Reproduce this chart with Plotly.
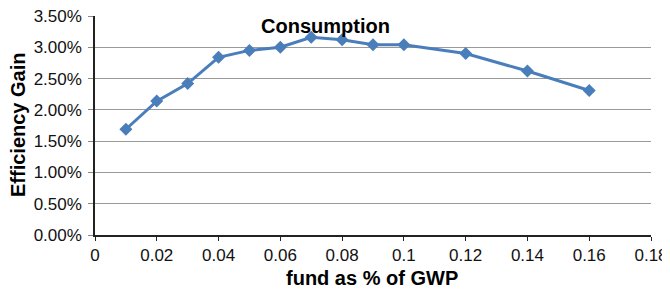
import plotly.graph_objects as go

fund = [0.01, 0.02, 0.03, 0.04, 0.05, 0.06, 0.07, 0.08, 0.09, 0.10, 0.12, 0.14, 0.16]
gain = [0.0169, 0.0214, 0.0242, 0.0284, 0.0295, 0.0300, 0.0316, 0.0312, 0.0304, 0.0304, 0.0290, 0.0262, 0.0231]

x_ticks = [0, 0.02, 0.04, 0.06, 0.08, 0.1, 0.12, 0.14, 0.16, 0.18]
x_labels = ["0", "0.02", "0.04", "0.06", "0.08", "0.1", "0.12", "0.14", "0.16", "0.18"]
y_ticks = [0, 0.005, 0.01, 0.015, 0.02, 0.025, 0.03, 0.035]
y_labels = ["0.00%", "0.50%", "1.00%", "1.50%", "2.00%", "2.50%", "3.00%", "3.50%"]

# page body has an 8px default margin; compensate
OFF = 8
W, H = 662, 285
L, R, T, B = 87, 19, 8, 58
pw, ph = W - L - R, H - T - B


def px(x):
    return (x - OFF - L) / pw


def py(y):
    return 1 - (y - OFF - T) / ph


fig = go.Figure()
fig.add_trace(go.Scatter(
    x=fund, y=gain, mode="lines+markers",
    line=dict(color="#4a7ebb", width=3),
    marker=dict(symbol="diamond", size=10, color="#4a7ebb"),
    showlegend=False,
))

fig.update_layout(
    width=W, height=H,
    margin=dict(l=L, r=R, t=T, b=B, autoexpand=False),
    paper_bgcolor="white", plot_bgcolor="white",
    font=dict(family="Liberation Sans, Arial, sans-serif", size=17, color="#111"),
    xaxis=dict(
        range=[0, 0.18], tickvals=x_ticks, ticktext=x_labels,
        showgrid=False, showline=True, linecolor="#222", linewidth=1.5,
        ticks="outside", ticklen=4, tickcolor="#222", zeroline=False,
        automargin=False, ticklabeloverflow="allow",
    ),
    yaxis=dict(
        range=[0, 0.035], tickvals=y_ticks, ticktext=y_labels,
        showgrid=True, gridcolor="#999", gridwidth=1,
        showline=True, linecolor="#222", linewidth=1.5,
        ticks="outside", ticklen=5, tickcolor="#888", zeroline=False,
        automargin=False, ticklabelstandoff=3, ticklabeloverflow="allow",
    ),
    annotations=[
        dict(text="<b>Consumption</b>", x=px(325), y=py(26),
             xref="paper", yref="paper", showarrow=False,
             xanchor="center", yanchor="middle",
             font=dict(size=20, color="#000")),
        dict(text="<b>fund as % of GWP</b>", x=px(372), y=py(278),
             xref="paper", yref="paper", showarrow=False,
             xanchor="center", yanchor="middle",
             font=dict(size=20, color="#000")),
        dict(text="<b>Efficiency Gain</b>", x=px(18), y=py(125),
             xref="paper", yref="paper", showarrow=False, textangle=-90,
             xanchor="center", yanchor="middle",
             font=dict(size=20, color="#000")),
    ],
)

fig.write_html("out.html")
